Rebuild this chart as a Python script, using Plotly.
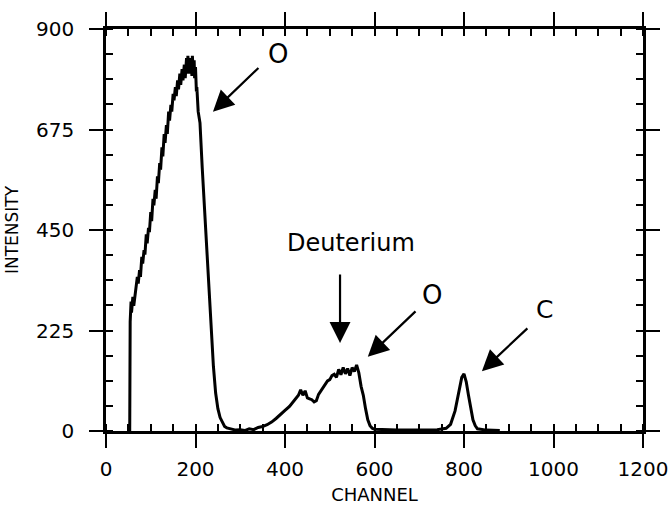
import plotly.graph_objects as go

# Spectrum (channel, intensity)
channel = [50, 53, 54, 56, 57, 60, 62, 65, 67, 70, 72, 75, 77, 80, 82, 85, 87, 90, 92, 95, 97,
           100, 102, 105, 107, 110, 112, 115, 117, 120, 122, 125, 127,
           130, 132, 135, 137, 140, 142, 145, 147, 150, 152, 155, 157, 160, 162, 165, 167,
           170, 172, 175, 177, 180, 182, 183, 185, 187, 188, 190, 192, 193,
           195, 197, 198, 200, 202, 203, 206, 210, 215, 220, 225, 230, 235, 240, 245, 250, 255, 260,
           265, 270, 280, 290, 300, 310, 320, 330, 340, 350, 360, 370, 380, 390, 400, 410,
           420, 430, 435, 440, 445, 450, 455, 460, 465, 470, 475, 480, 485, 490, 495, 500,
           505, 510, 515, 520, 525, 530, 535, 540, 545, 550, 555, 560, 565, 570, 575, 580,
           585, 590, 595, 600, 620, 650, 700, 740, 760, 770, 780, 790, 795, 800, 805, 810,
           815, 820, 825, 830, 850, 880]
intensity = [0, 0, 245, 290, 265, 300, 280, 310, 325, 345, 330, 360, 345, 390, 375, 405, 395, 440, 420, 455, 445,
             490, 470, 520, 505, 540, 520, 570, 555, 600, 585, 635, 615,
             665, 645, 685, 665, 715, 695, 730, 715, 755, 740, 770, 750, 785, 765, 800, 775,
             810, 785, 820, 790, 835, 800, 840, 810, 835, 800, 830, 795, 840,
             805, 830, 790, 815, 760, 770, 715, 690, 590, 500, 410, 320, 230, 145, 85, 50, 30, 18,
             10, 7, 4, 2, 3, 1, 5, 3, 8, 10, 14, 20, 28, 36, 46, 55,
             68, 80, 92, 80, 90, 74, 72, 70, 65, 68, 82, 90, 97, 103, 112, 115,
             124, 127, 120, 138, 126, 142, 128, 140, 124, 142, 133, 148, 130, 100, 80, 50,
             25, 12, 6, 4, 3, 2, 2, 3, 6, 15, 45, 95, 120, 128, 110, 80,
             50, 25, 12, 5, 2, 1]

x_ticks = [0, 200, 400, 600, 800, 1000, 1200]
y_ticks = [0, 225, 450, 675, 900]

# annotations: (text, channel, intensity)
labels = [("O", 384, 843), ("Deuterium", 547, 421), ("O", 728, 305), ("C", 979, 271)]
label_sizes = [26, 24, 26, 25]
# arrows: (tip channel, tip intensity, tail channel, tail intensity)
arrows = [(239, 715, 344, 816), (523, 197, 523, 354), (585, 166, 695, 271), (840, 134, 945, 233)]

FONT = "DejaVu Sans"

fig = go.Figure()
fig.add_trace(go.Scatter(x=channel, y=intensity, mode="lines",
                         line=dict(color="black", width=3), hoverinfo="skip",
                         showlegend=False))

axis_common = dict(showline=True, linecolor="black", linewidth=2.5, mirror="ticks",
                   ticks="outside", ticklen=14, tickwidth=2, tickcolor="black",
                   showgrid=False, zeroline=False, automargin=False,
                   tickfont=dict(family=FONT, size=20, color="black"))

fig.update_xaxes(range=[0, 1200], tickvals=x_ticks, ticktext=[str(v) for v in x_ticks],
                 ticklabelstandoff=4,
                 minor=dict(ticks="inside", ticklen=7, tickwidth=2, tickcolor="black",
                            dtick=50, tick0=0, showgrid=False),
                 title=dict(text="CHANNEL", font=dict(family=FONT, size=18, color="black"),
                            standoff=14),
                 **axis_common)
fig.update_yaxes(range=[0, 900], tickvals=y_ticks, ticktext=[str(v) for v in y_ticks],
                 ticklabelstandoff=11,
                 minor=dict(ticks="inside", ticklen=7, tickwidth=2, tickcolor="black",
                            dtick=56.25, tick0=0, showgrid=False),
                 title=dict(text="INTENSITY", font=dict(family=FONT, size=17, color="black"),
                            standoff=14),
                 **axis_common)

for (t, cx, cy), s in zip(labels, label_sizes):
    fig.add_annotation(x=cx, y=cy, xref="x", yref="y", text=t, showarrow=False,
                       font=dict(family=FONT, size=s, color="black"))
for tx, ty, sx, sy in arrows:
    fig.add_annotation(x=tx, y=ty, ax=sx, ay=sy, xref="x", yref="y", axref="x", ayref="y",
                       text="", showarrow=True, arrowhead=2, arrowsize=1.9,
                       arrowwidth=2.2, arrowcolor="black")

fig.update_layout(width=671, height=505, margin=dict(l=106, r=28, t=29, b=74),
                  paper_bgcolor="white", plot_bgcolor="white", showlegend=False)

fig.write_html("out.html")
